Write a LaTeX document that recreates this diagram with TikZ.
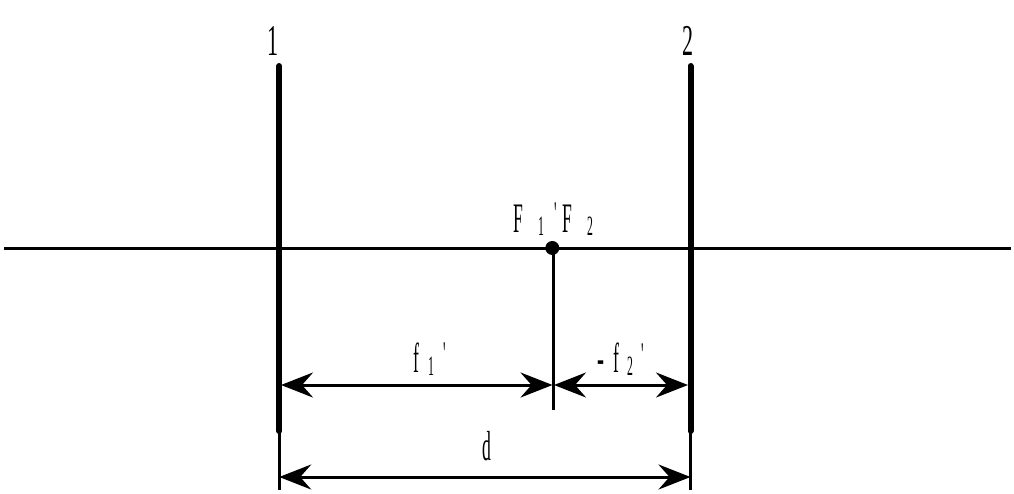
\documentclass[tikz,border=0pt]{standalone}
\usepackage{fontspec}
\setmainfont{Liberation Serif}
\newfontfamily\plainserif{Liberation Serif}
\usetikzlibrary{arrows.meta}
\newcommand{\sq}[1]{\scalebox{0.5}[1]{#1}}
\newcommand{\sqb}[1]{\scalebox{0.42}[1]{#1}}
% a piece of a label, set at a given offset from the label's start
\newcommand{\pc}[2]{\rlap{\hspace{#1pt}#2}}
\newcommand{\bigc}[1]{{\fontsize{42}{42}\selectfont\sqb{#1}}}
\newcommand{\subc}[1]{\raisebox{-3pt}{\fontsize{28}{28}\selectfont\sqb{#1}}}
\newcommand{\tick}[1]{\raisebox{#1pt}{\plainserif\fontsize{33}{33}\selectfont\sqb{\symbol{39}}}}
\newcommand{\dashc}{\raisebox{0pt}{\fontsize{42}{42}\selectfont\scalebox{0.5}[1]{\textbf{-}}}}
\tikzset{
  thinline/.style={line width=3pt,draw=black},
  lensline/.style={line width=6pt,draw=black,line cap=round},
  dim/.style={line width=3pt,draw=black,{Stealth[length=32pt,width=25pt,inset=11pt]}-{Stealth[length=32pt,width=25pt,inset=11pt]}},
  lbl/.style={inner sep=0pt,outer sep=0pt,text=black,anchor=base},
  pt/.style={inner sep=0pt,minimum size=0pt}
}
\begin{document}
\begin{tikzpicture}[x=1pt,y=-1pt]
\useasboundingbox (0,0) rectangle (1014,493);
\fill[white] (0,0) rectangle (1014,493);
\coordinate (axL) at (4,248);
\coordinate (axR) at (1011,248);
\coordinate (l1t) at (279.2,66);
\coordinate (l1b) at (279.2,431);
\coordinate (l1e) at (279.2,490);
\coordinate (l2t) at (690.5,66);
\coordinate (l2b) at (690.5,431);
\coordinate (l2e) at (690.5,490);
\coordinate (ft) at (553.5,248);
\coordinate (fb) at (553.5,410);
\coordinate (a1) at (281,385);
\coordinate (a2) at (552.5,385);
\coordinate (a3) at (554,385);
\coordinate (a4) at (688,385);
\coordinate (d1) at (279.2,477);
\coordinate (d2) at (690.5,477);
\node[circle,fill=black,pt,minimum size=14pt] (F) at (552.3,248) {};
\draw[thinline] (axL) -- (axR);
\draw[thinline] (ft) -- (fb);
\draw[lensline] (l1t) -- (l1b);
\draw[lensline] (l2t) -- (l2b);
\draw[thinline] (l1b) -- (l1e);
\draw[thinline] (l2b) -- (l2e);
\draw[dim] (a1) -- (a2);
\draw[dim] (a3) -- (a4);
\draw[dim] (d1) -- (d2);
\node[lbl,font=\fontsize{44}{44}\selectfont] (n1) at (272.5,55) {\sq{1}};
\node[lbl,font=\fontsize{44}{44}\selectfont] (n2) at (687.5,55) {\sq{2}};
\node[lbl,anchor=base west] (fl) at (513,232) {\pc{0}{\bigc{F}}\pc{25}{\subc{1}}\pc{41}{\tick{8}}\pc{49}{\bigc{F}}\pc{74}{\subc{2}}\phantom{x}};
\node[lbl,anchor=base west] (f1) at (413,372) {\pc{0}{\bigc{f}}\pc{15}{\subc{1}}\pc{30}{\tick{8}}\phantom{x}};
\node[lbl,anchor=base west] (f2) at (597,372) {\pc{0}{\dashc}\pc{16}{\bigc{f}}\pc{30}{\subc{2}}\pc{44}{\tick{7}}\phantom{x}};
\node[lbl,font=\fontsize{42}{42}\selectfont] (dl) at (487,460) {\sqb{d}};
\end{tikzpicture}
\end{document}
